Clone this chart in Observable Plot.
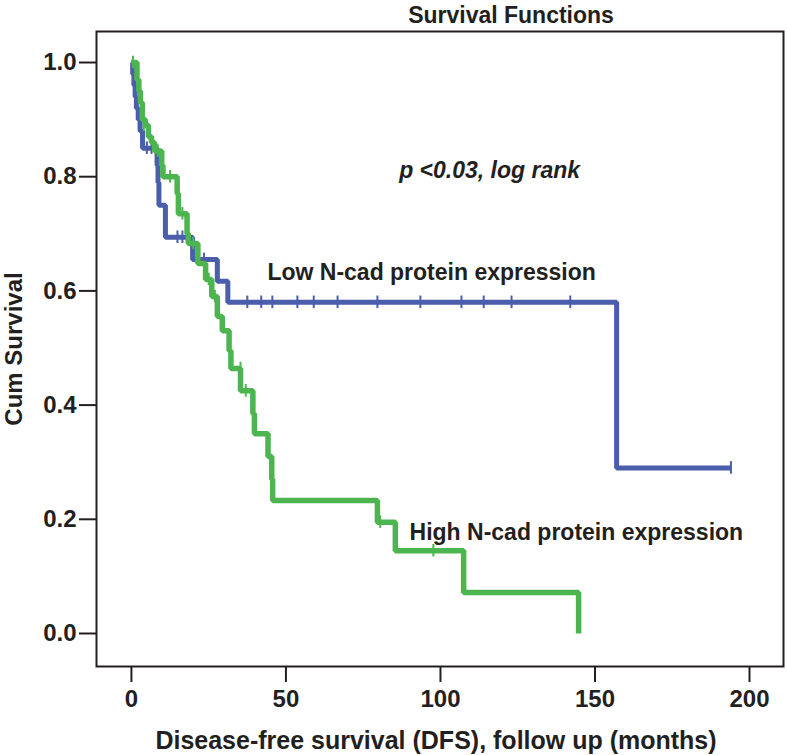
<!DOCTYPE html>
<html>
<head>
<meta charset="utf-8">
<script src="https://cdn.jsdelivr.net/npm/d3@7"></script>
<script src="https://cdn.jsdelivr.net/npm/@observablehq/plot@0.6"></script>
<style>
  html, body { margin: 0; padding: 0; background: #fff; }
  #chart { width: 787px; height: 755px; }
</style>
</head>
<body>
<div id="chart"></div>
<script>
// ---- Data ----
// Low N-cad protein expression (blue) Kaplan-Meier steps
const lowT = [0, 0.4, 0.8, 1.2, 1.6, 2.2, 2.8, 3.6, 8.3, 8.6, 8.9, 11.0, 19.8, 27.8, 31.2, 157, 194];
const lowS = [1.0, 0.98, 0.96, 0.94, 0.92, 0.90, 0.88, 0.85, 0.82, 0.79, 0.75, 0.694, 0.655, 0.617, 0.58, 0.29, 0.29];
// censored observations (low)
const lowCensT = [5.0, 6.5, 14.9, 16.5, 23.5, 37.5, 42, 45.6, 53.7, 59, 66.7, 79.6, 93.5, 106.8, 114, 123, 142, 194];
const lowCensS = [0.85, 0.85, 0.694, 0.694, 0.655, 0.58, 0.58, 0.58, 0.58, 0.58, 0.58, 0.58, 0.58, 0.58, 0.58, 0.58, 0.58, 0.29];

// High N-cad protein expression (green) Kaplan-Meier steps
const highT = [0, 1.8, 2.4, 2.9, 3.5, 4.5, 5.5, 6.5, 7.5, 9.8, 10.2, 14.8, 15.2, 18.0, 18.4, 21.5, 24.0, 26.0, 27.8, 29.4, 31.6, 32.2, 35.3, 39.3, 39.8, 44.2, 45.4, 45.7, 79.6, 85.4, 107.5, 144.7];
const highS = [1.0, 0.97, 0.95, 0.93, 0.90, 0.89, 0.87, 0.86, 0.845, 0.82, 0.80, 0.77, 0.735, 0.70, 0.683, 0.648, 0.62, 0.59, 0.555, 0.53, 0.495, 0.464, 0.425, 0.385, 0.35, 0.31, 0.27, 0.233, 0.195, 0.145, 0.072, 0.0];
// censored observations (high)
const highCensT = [0.5, 2.0, 4.0, 6.0, 8.5, 12.5, 16.5, 20.0, 25.0, 27.0, 35.3, 37.0, 80.5, 97.7];
const highCensS = [1.0, 0.97, 0.89, 0.87, 0.845, 0.80, 0.735, 0.683, 0.62, 0.59, 0.464, 0.425, 0.195, 0.145];

// Axis ticks
const xTicks = [0, 50, 100, 150, 200];
const yTicks = [0.0, 0.2, 0.4, 0.6, 0.8, 1.0];

// Texts
const titleText = "Survival Functions";
const xLabel = "Disease-free survival (DFS), follow up (months)";
const yLabel = "Cum Survival";
const annoText = ["p <0.03, log rank", "Low N-cad protein expression", "High N-cad protein expression"];
const annoT = [115.9, 44, 90];
const annoS = [0.811, 0.632, 0.177];
const annoStyle = ["italic", "normal", "normal"];

// ---- Build tables ----
const low = lowT.map((t, i) => ({t, S: lowS[i]}));
const high = highT.map((t, i) => ({t, S: highS[i]}));
const lowCens = lowCensT.map((t, i) => ({t, S: lowCensS[i]}));
const highCens = highCensT.map((t, i) => ({t, S: highCensS[i]}));
const annos = annoText.map((text, i) => ({text, t: annoT[i], S: annoS[i], style: annoStyle[i]}));

const BLUE = "#4a5eab";
const GREEN = "#4cb54f";
const INK = "#231f20";
const cens = 0.011;

const chart = Plot.plot({
  width: 787,
  height: 755,
  marginLeft: 96,
  marginRight: 4,
  marginTop: 31,
  marginBottom: 89,
  style: "font-family: 'Liberation Sans', Arial, sans-serif; font-weight: bold; color: #231f20; background: #fff; overflow: visible;",
  x: {domain: [-11.3, 211], axis: null},
  y: {domain: [-0.0578, 1.0543], axis: null},
  marks: [
    Plot.frame({stroke: INK, strokeWidth: 2}),
    Plot.axisX({ticks: xTicks, tickSize: 16, tickPadding: 7, fontSize: 24, fontWeight: "bold", strokeWidth: 2, label: null}),
    Plot.axisY({ticks: yTicks, tickFormat: d3.format(".1f"), tickSize: 17, tickPadding: 3, fontSize: 24, fontWeight: "bold", strokeWidth: 2, label: null}),
    Plot.line(low, {x: "t", y: "S", curve: "step-after", stroke: BLUE, strokeWidth: 5, strokeLinejoin: "miter", strokeLinecap: "butt"}),
    Plot.ruleX(lowCens, {x: "t", y1: d => d.S - cens, y2: d => d.S + cens, stroke: BLUE, strokeWidth: 2}),
    Plot.line(high, {x: "t", y: "S", curve: "step-after", stroke: GREEN, strokeWidth: 5.5, strokeLinejoin: "miter", strokeLinecap: "butt"}),
    Plot.ruleX(highCens, {x: "t", y1: d => d.S - cens, y2: d => d.S + cens, stroke: GREEN, strokeWidth: 2}),
    Plot.text(annos.filter(d => d.style === "italic"), {x: "t", y: "S", text: "text", textAnchor: "middle", fontSize: 23, fontWeight: "bold", fontStyle: "italic", fill: INK}),
    Plot.text(annos.filter(d => d.style !== "italic"), {x: "t", y: "S", text: "text", textAnchor: "start", fontSize: 23, fontWeight: "bold", fill: INK}),
    Plot.text([titleText], {frameAnchor: "top", lineAnchor: "middle", textAnchor: "middle", dx: 71, dy: -16, fontSize: 23, fontWeight: "bold", fill: INK}),
    Plot.text([xLabel], {frameAnchor: "bottom", lineAnchor: "middle", textAnchor: "middle", dx: -4, dy: 74, fontSize: 25, fontWeight: "bold", fill: INK}),
    Plot.text([yLabel], {frameAnchor: "left", lineAnchor: "middle", textAnchor: "middle", dx: -82, rotate: -90, fontSize: 24, fontWeight: "bold", fill: INK})
  ]
});
document.getElementById("chart").appendChild(chart);
</script>
</body>
</html>
